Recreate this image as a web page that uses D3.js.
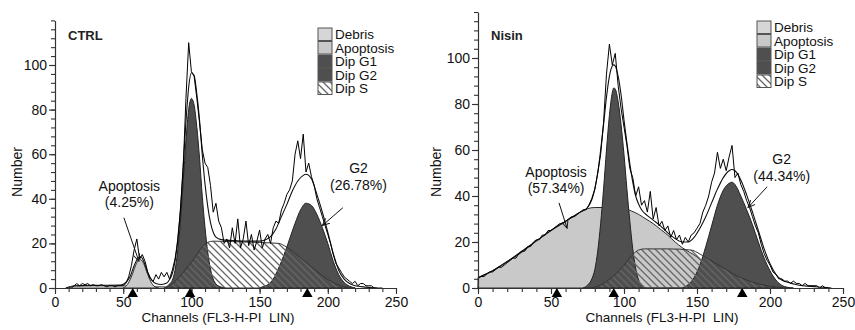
<!DOCTYPE html>
<html>
<head>
<meta charset="utf-8">
<script src="https://cdn.jsdelivr.net/npm/d3@7"></script>
<style>
  body { margin: 0; background: #fff; }
  svg { display: block; font-family: "Liberation Sans", Arial, sans-serif; }
</style>
</head>
<body>
<svg id="chart" width="855" height="330"></svg>
<script>
// ---- data (channel, count) ----
const legendNames = ['Debris', 'Apoptosis', 'Dip G1', 'Dip G2', 'Dip S'];
const xTicks = [0, 50, 100, 150, 200, 250];
const yTicks = [0, 20, 40, 60, 80, 100];

// CTRL
const ctrlDebris = [[8,0],[14,0.8],[30,1],[50,1],[70,0.8],[90,0.4],[110,0]];
const ctrlApop = [[50,0],[53,1.5],[56,5],[59,10],[62,13],[65,11],[68,6],[71,2],[74,0.3],[76,0]];
const ctrlG1 = [[80,0],[82,0.6],[84,1.8],[86,3.5],[88,8],[90,17],[92,30],[94,48],[96,66],[98,80],[100,85],[102,82],[104,72],[106,58],[108,41],[110,27],[112,16],[114,8.5],[116,4],[118,1.8],[121,0.6],[124,0]];
const ctrlG2 = [[150,0],[152,0.5],[156,1.5],[160,4],[164,9],[168,15],[172,22],[176,29],[180,35],[184,38],[188,37],[192,33],[196,27],[200,20],[204,12],[208,6],[212,2.5],[216,0.8],[220,0]];
const ctrlS = [[80,0],[84,1],[88,3],[92,5.5],[96,8.5],[100,11.5],[104,15],[108,18.5],[112,20.5],[116,21],[130,20.8],[150,20.4],[164,20],[168,19],[172,17.5],[176,15.5],[180,13.5],[184,11.5],[188,9.5],[192,7.5],[196,5.5],[200,3.8],[204,2.4],[208,1.3],[212,0.6],[216,0.2],[220,0]];
const ctrlFit = [[8,0],[14,1],[30,1.2],[48,1.3],[52,2.5],[55,5],[58,10],[61,13.5],[63,14],[65,12],[68,7],[71,3.5],[74,2],[78,1.6],[82,2.2],[84,3.8],[86,6.5],[88,12],[90,22],[92,35.5],[94,55],[96,74.5],[98,90],[100,96.5],[102,95.3],[104,87],[106,75],[108,59.5],[110,46.5],[112,36.5],[114,29.3],[116,25],[118,22.8],[122,21.7],[130,21.3],[140,21],[150,21],[154,21.5],[158,23],[162,26.5],[166,32],[170,37.5],[174,43.5],[178,48],[182,50.5],[184,51],[186,50.5],[188,49],[192,42],[196,34],[200,25],[204,15.5],[208,8],[212,4],[216,2],[220,1],[228,0.4],[236,0]];
// raw counts, every 2nd channel starting at channel 10
const ctrlRaw = [0,0,1,2,1,2,1.5,2,1,1.5,1,1,1.5,1,0.5,1,1,0.5,1,1,1,2,5,10,17,22,13,15,12,7,4,3,6,4,7,5,7,4,8,13,21,35,54,85,110,97,95,85,74,62,56,54,46,34,38,30,27,20,22,18,27,20,31,18,22,30,19,24,17,21,26,18,22,24,20,27,30,29,35,38,42,44,48,60,66,58,69,52,56,50,46,40,36,32,28,24,20,15,11,9,7,5,4,3,2,3,1,2,2,1,1,1,0,0,0,0];
const ctrlMarks = [57, 99, 185];

// Nisin
const nisinDebris = [[0,1],[20,1],[60,0.8],[100,0.4],[130,0]];
const nisinApop = [[0,4.5],[10,7.5],[20,11.5],[30,15.5],[40,20.5],[50,25],[60,29],[70,33],[75,34.5],[80,35],[85,35],[90,34.7],[95,34.5],[100,34.5],[105,33.5],[110,32],[115,30],[120,28],[125,25.5],[130,23],[135,20],[140,17.5],[145,15.5],[150,13.5],[155,10.5],[160,6.5],[165,3],[170,1],[175,0]];
const nisinG1 = [[72,0],[75,1.2],[78,4],[80,8],[82,16],[84,28],[86,43],[88,60],[90,75],[92,85],[93,87],[94,86.5],[96,81],[98,71],[100,58],[102,43],[104,29],[106,17],[108,8.5],[110,3.5],[112,1.2],[115,0]];
const nisinG2 = [[140,0],[144,1.5],[148,4.5],[152,10],[156,18],[160,27],[164,36],[168,42.5],[172,45.5],[174,46],[176,45],[180,40],[184,34],[188,27.5],[192,20],[196,13],[200,7.5],[204,3.5],[208,1.2],[212,0.3],[216,0]];
const nisinS = [[78,0],[82,0.8],[86,2],[90,3.8],[94,6],[98,8.5],[102,11.5],[106,14.5],[110,16.5],[114,17],[130,17],[146,16.5],[150,15.5],[154,14],[158,12.5],[162,11],[166,9.5],[170,8],[175,6],[180,4.5],[186,3],[192,1.8],[198,1],[204,0.4],[210,0]];
const nisinFit = [[0,4.5],[10,7.5],[20,11.5],[30,16],[40,20.5],[50,25],[60,29],[70,33],[75,35],[78,38.5],[80,43],[82,50],[84,60],[86,71],[88,83],[90,92],[92,96.5],[93,97],[94,96.5],[96,92],[98,84],[100,73],[102,63],[104,54],[106,46],[108,40],[110,36.5],[112,34],[116,31.5],[120,29.5],[125,27],[130,24],[135,21.5],[140,20],[144,20],[148,22],[152,26],[156,31],[160,37],[164,43],[168,48],[172,51],[174,51.5],[176,51],[180,47],[184,40.5],[188,33],[192,25],[196,17],[200,10.5],[204,6],[208,3.5],[212,2.5],[216,1.8],[220,1.2],[228,0.7],[236,0.3],[242,0]];
// raw counts, every 2nd channel starting at channel 0
const nisinRaw = [4,5,5,6,7,7,8,9,9,10,11,12,13,13,15,16,16,18,18,20,21,21,23,23,25,25,26,27,28,28,29,30,31,31,32,33,34,34,36,39,43,50,58,72,93,106,97,102,88,78,70,62,52,48,40,44,36,38,33,42,30,35,27,29,25,27,22,25,21,23,19,22,20,23,24,26,28,33,36,40,46,50,59,52,56,51,57,62,48,50,45,42,38,35,31,27,24,19,15,12,10,7,6,4,4,3,3,2,3,2,2,1,2,1,1,1,1,0,1,0,0];
const nisinMarks = [54, 93, 181];

// annotations: text anchor and arrow in (channel, count)
const ctrlNotes = [
  { lines: ['Apoptosis', '(4.25%)'], at: [54.5, 43.5], from: [50.5, 31.5], to: [61.5, 12] },
  { lines: ['G2', '(26.78%)'], at: [222.5, 51.5], from: [211, 36], to: [196, 28] }
];
const nisinNotes = [
  { lines: ['Apoptosis', '(57.34%)'], at: [53.5, 48.3], from: [55.5, 37], to: [61, 26] },
  { lines: ['G2', '(44.34%)'], at: [208, 53.9], from: [198, 44], to: [185, 35] }
];

const svg = d3.select('#chart');
const defs = svg.append('defs');

const hatch = defs.append('pattern')
  .attr('id', 'hatch')
  .attr('patternUnits', 'userSpaceOnUse')
  .attr('width', 7)
  .attr('height', 7);
hatch.append('path')
  .attr('d', 'M-1,-1 L8,8 M-1,6 L1,8 M6,-1 L8,1')
  .attr('stroke', '#666')
  .attr('stroke-width', 1.3);

defs.append('marker')
  .attr('id', 'arrow')
  .attr('viewBox', '0 0 10 10')
  .attr('refX', 9).attr('refY', 5)
  .attr('markerWidth', 8).attr('markerHeight', 8)
  .attr('orient', 'auto')
  .append('path')
  .attr('d', 'M0,1 L9,5 L0,9')
  .attr('fill', 'none')
  .attr('stroke', '#111')
  .attr('stroke-width', 1.2);

const lightGray = '#c9c9c9';
const darkGray = '#4f4f4f';
const legendFills = ['#d6d6d6', lightGray, darkGray, darkGray, 'url(#hatch)'];

const panels = [
  { title: 'CTRL', xRange: [55, 396], yRange: [288, 20.4], debris: ctrlDebris, apop: ctrlApop, g1: ctrlG1, g2: ctrlG2, s: ctrlS, fit: ctrlFit,
    raw: ctrlRaw, rawStart: 10, marks: ctrlMarks, notes: ctrlNotes, legendX: 318, legendY: 28, yTitleX: 17, xTitleX: 218 },
  { title: 'Nisin', xRange: [478, 843], yRange: [288, 12], debris: nisinDebris, apop: nisinApop, g1: nisinG1, g2: nisinG2, s: nisinS, fit: nisinFit,
    raw: nisinRaw, rawStart: 0, marks: nisinMarks, notes: nisinNotes, legendX: 757, legendY: 21, yTitleX: 436, xTitleX: 662 }
];

panels.forEach(drawPanel);

function drawPanel(p) {
  const x = d3.scaleLinear().domain([0, 250]).range(p.xRange);
  const y = d3.scaleLinear().domain([0, 120]).range(p.yRange);
  const g = svg.append('g');

  const area = d3.area()
    .x(d => x(d[0])).y0(y(0)).y1(d => y(d[1]))
    .curve(d3.curveMonotoneX);
  const line = d3.line()
    .x(d => x(d[0])).y(d => y(d[1]))
    .curve(d3.curveMonotoneX);

  g.append('path').datum(p.debris).attr('d', area)
    .attr('fill', '#d6d6d6').attr('stroke', '#444').attr('stroke-width', 0.7);
  g.append('path').datum(p.apop).attr('d', area)
    .attr('fill', lightGray).attr('stroke', '#2a2a2a').attr('stroke-width', 1);
  [p.g1, p.g2].forEach(c => {
    g.append('path').datum(c).attr('d', area)
      .attr('fill', darkGray).attr('stroke', '#222').attr('stroke-width', 1);
  });
  g.append('path').datum(p.s).attr('d', area)
    .attr('fill', 'url(#hatch)').attr('stroke', '#333').attr('stroke-width', 1);

  // model fit
  g.append('path').datum(p.fit).attr('d', line)
    .attr('fill', 'none').attr('stroke', '#111').attr('stroke-width', 1.1);

  // raw histogram
  const rawLine = d3.line()
    .x((d, i) => x(p.rawStart + i * 2))
    .y(d => y(d));
  g.append('path').datum(p.raw).attr('d', rawLine)
    .attr('fill', 'none').attr('stroke', '#000').attr('stroke-width', 1);

  // axes
  const font = '"Liberation Sans", Arial, sans-serif';
  const yMinor = g.append('g').attr('transform', `translate(${x(0)},0)`)
    .call(d3.axisLeft(y).tickValues(d3.range(0, 121, 4)).tickSize(4).tickFormat(''));
  yMinor.select('.domain').remove();
  const yAx = g.append('g').attr('transform', `translate(${x(0)},0)`)
    .call(d3.axisLeft(y).tickValues(yTicks).tickSize(6).tickSizeOuter(0).tickPadding(2));
  const xMinor = g.append('g').attr('transform', `translate(0,${y(0)})`)
    .call(d3.axisBottom(x).tickValues(d3.range(0, 251, 10)).tickSize(4).tickFormat(''));
  xMinor.select('.domain').remove();
  const xAx = g.append('g').attr('transform', `translate(0,${y(0)})`)
    .call(d3.axisBottom(x).tickValues(xTicks).tickSize(6).tickSizeOuter(0).tickPadding(3));

  [yMinor, yAx, xMinor, xAx].forEach(a => {
    a.attr('font-family', font).attr('font-size', 14);
    a.selectAll('line').attr('stroke', '#333').attr('stroke-width', 1.1);
    a.selectAll('.domain').attr('stroke', '#333').attr('stroke-width', 1.2);
    a.selectAll('text').attr('fill', '#111');
  });

  // gate markers
  g.selectAll('.mark')
    .data(p.marks)
    .enter().append('path')
    .attr('class', 'mark')
    .attr('d', d3.symbol(d3.symbolTriangle).size(48))
    .attr('transform', d => `translate(${x(d)},${y(0) + 6})`)
    .attr('fill', '#000');

  // axis titles
  g.append('text')
    .attr('x', p.xTitleX).attr('y', 322)
    .attr('text-anchor', 'middle')
    .style('white-space', 'pre')
    .attr('font-size', 13.5).attr('fill', '#111')
    .text('Channels (FL3-H-PI  LIN)');
  g.append('text')
    .attr('transform', `translate(${p.yTitleX + 5},172) rotate(-90)`)
    .attr('text-anchor', 'middle')
    .attr('font-size', 14).attr('fill', '#111')
    .text('Number');

  // sample name
  g.append('text')
    .attr('x', x(0) + 13).attr('y', 40)
    .attr('font-size', 13).attr('font-weight', 'bold').attr('fill', '#222')
    .text(p.title);

  // legend
  const leg = g.append('g').attr('transform', `translate(${p.legendX},${p.legendY})`);
  legendNames.forEach((name, i) => {
    leg.append('rect')
      .attr('x', 0).attr('y', i * 13.5)
      .attr('width', 14).attr('height', 12.5)
      .attr('fill', legendFills[i]).attr('stroke', '#555').attr('stroke-width', 1);
    leg.append('text')
      .attr('x', 17).attr('y', i * 13.5 + 11)
      .attr('font-size', 13.5).attr('fill', '#111')
      .text(name);
  });

  // annotations
  p.notes.forEach(n => {
    n.lines.forEach((t, i) => {
      g.append('text')
        .attr('x', x(n.at[0])).attr('y', y(n.at[1]) + i * 16.5)
        .attr('text-anchor', 'middle')
        .attr('font-size', 14).attr('fill', '#111')
        .text(t);
    });
    g.append('line')
      .attr('x1', x(n.from[0])).attr('y1', y(n.from[1]))
      .attr('x2', x(n.to[0])).attr('y2', y(n.to[1]))
      .attr('stroke', '#111').attr('stroke-width', 1)
      .attr('marker-end', 'url(#arrow)');
  });
}
</script>
</body>
</html>
